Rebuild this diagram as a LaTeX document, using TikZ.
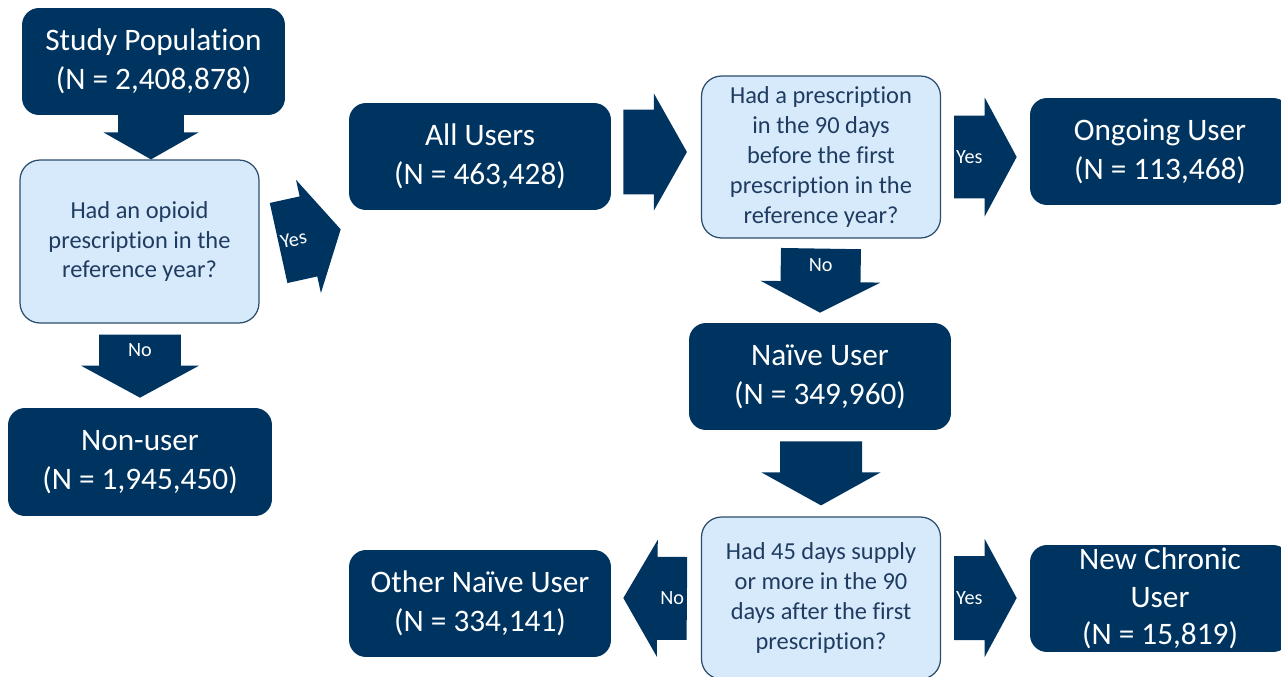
\documentclass[tikz,border=0pt]{standalone}
\usepackage{fontspec}
\setmainfont{Carlito}[Ligatures=NoCommon]
\usetikzlibrary{calc}

\definecolor{darknavy}{RGB}{0,52,96}
\definecolor{paleblue}{RGB}{214,234,252}
\definecolor{edgeblue}{RGB}{44,76,108}
\definecolor{qtext}{RGB}{31,60,96}

% block arrow: tail, tip, shaft half width, head half width, head length, label options, label
\newcommand{\barrow}[7]{%
  \coordinate (ba-t) at (#1);
  \coordinate (ba-p) at (#2);
  \coordinate (ba-h) at ($(ba-p)!#5!(ba-t)$);
  \fill[darknavy] ($(ba-t)!#3!90:(ba-p)$) -- ($(ba-h)!#3!90:(ba-p)$) -- ($(ba-h)!#4!90:(ba-p)$) -- (ba-p)
    -- ($(ba-h)!#4!-90:(ba-p)$) -- ($(ba-h)!#3!-90:(ba-p)$) -- ($(ba-t)!#3!-90:(ba-p)$) -- cycle;
  \if\relax\detokenize{#7}\relax\else
    \path (ba-t) -- (ba-h) node[midway,arrowlabel,#6] {#7};
  \fi
}

\begin{document}
\begin{tikzpicture}[x=0.02cm,y=-0.02cm,
  darkbox/.style={fill=darknavy,rounded corners=0.34cm,text=white,align=center,inner sep=0pt,
    font=\fontsize{17.8}{22.1}\selectfont,minimum width=5.24cm,minimum height=2.14cm},
  lightbox/.style={fill=paleblue,draw=edgeblue,line width=0.7pt,rounded corners=0.4cm,text=qtext,
    align=center,inner sep=0pt,font=\fontsize{13.9}{17}\selectfont,minimum width=4.78cm,minimum height=3.26cm},
  arrowlabel/.style={text=white,inner sep=0pt,font=\fontsize{11.5}{13}\selectfont}]
  \useasboundingbox (0,0) rectangle (1281,676);

  % boxes
  \node[darkbox,minimum width=5.26cm] (study) at (153.5,61.5) {Study Population\\(N = 2,408,878)};
  \node[lightbox] (q1) at (139.5,241.5) {Had an opioid\\prescription in the\\reference year?};
  \node[darkbox,minimum width=5.28cm,minimum height=2.16cm] (nonuser) at (140,462) {Non-user\\(N = 1,945,450)};
  \node[darkbox] (allusers) at (480,156.5) {All Users\\(N = 463,428)};
  \node[lightbox,minimum height=3.24cm] (q2) at (821,157) {Had a prescription\\in the 90 days\\before the first\\prescription in the\\reference year?};
  \node[darkbox,minimum width=5.2cm] (ongoing) at (1160,151.5) {Ongoing User\\(N = 113,468)};
  \node[darkbox] (naive) at (820,376.5) {Naïve User\\(N = 349,960)};
  \node[lightbox,minimum height=3.24cm] (q3) at (821,598) {Had 45 days supply\\or more in the 90\\days after the first\\prescription?};
  \node[darkbox] (other) at (480,603.5) {Other Naïve User\\(N = 334,141)};
  \node[darkbox,minimum width=5.2cm,font=\fontsize{17.8}{21.5}\selectfont] (newchronic) at (1160,598.5) {New Chronic\\User\\(N = 15,819)};

  % block arrows
  \barrow{$(study.south)+(-2.5,-10)$}{$(q1.north)+(11.5,0)$}{0.66cm}{0.95cm}{0.54cm}{}{}
  \barrow{$(q1.south)+(0.5,11)$}{$(nonuser.north)+(0,-10)$}{0.82cm}{1.18cm}{0.64cm}{}{No}
  \barrow{$(q1.east)+(19,1.5)$}{$(allusers.south west)+(-8,19)$}{0.82cm}{1.16cm}{0.66cm}{sloped}{Yes}
  \barrow{$(allusers.east)+(12,-4.5)$}{$(q2.west)+(-14,-5)$}{0.85cm}{1.17cm}{0.66cm}{}{}
  \barrow{$(q2.east)+(13,0)$}{$(ongoing.west)+(-13,5.5)$}{0.83cm}{1.19cm}{0.64cm}{}{Yes}
  \barrow{$(q2.south)+(0,10)$}{$(naive.north)+(0,-10)$}{0.8cm}{1.2cm}{0.62cm}{}{No}
  \barrow{$(naive.south)+(1,11)$}{$(q3.north)+(0,-11)$}{0.82cm}{1.19cm}{0.66cm}{}{}
  \barrow{$(q3.west)+(-14,0.5)$}{$(other.east)+(12,-5.5)$}{0.83cm}{1.17cm}{0.68cm}{}{No}
  \barrow{$(q3.east)+(13,0)$}{$(newchronic.west)+(-13,-0.5)$}{0.84cm}{1.18cm}{0.64cm}{}{Yes}
\end{tikzpicture}
\end{document}
